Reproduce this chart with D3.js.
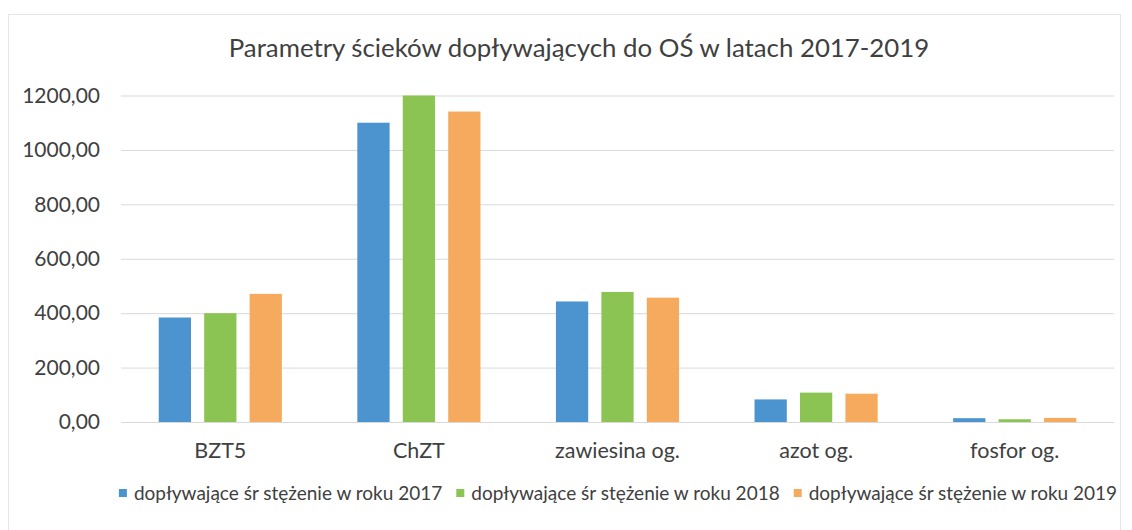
<!DOCTYPE html>
<html>
<head>
<meta charset="utf-8">
<script src="https://cdn.jsdelivr.net/npm/d3@7"></script>
<style>
  body { margin: 0; background: #fff; }
  svg { display: block; font-family: Lato, "Open Sans", sans-serif; }
  .grid line { stroke: #d9d9d9; stroke-width: 1; }
  .grid path { display: none; }
  .axis text { fill: #404040; }
</style>
</head>
<body>
<svg id="chart"></svg>
<script>
// chart data
const categories = ['BZT5', 'ChZT', 'zawiesina og.', 'azot og.', 'fosfor og.'];
const seriesNames = [
  'dopływające śr stężenie w roku 2017',
  'dopływające śr stężenie w roku 2018',
  'dopływające śr stężenie w roku 2019'
];
const values2017 = [384, 1100, 443, 83, 14];
const values2018 = [400, 1200, 478, 108, 10];
const values2019 = [471, 1141, 457, 104, 15];
const yTicks = [0, 200, 400, 600, 800, 1000, 1200];
const colors = ['#4c94d0', '#8cc453', '#f6aa5e'];
const title = 'Parametry ścieków dopływających do OŚ w latach 2017-2019';

class GroupedBarChart {

  constructor(_config) {
    this.config = {
      parentElement: _config.parentElement,
      containerWidth: _config.containerWidth || 1132,
      containerHeight: _config.containerHeight || 530,
      margin: _config.margin || { top: 95.5, right: 18, bottom: 108, left: 121 }
    };
    this.initVis();
  }

  initVis() {
    let vis = this;

    vis.width = vis.config.containerWidth - vis.config.margin.left - vis.config.margin.right;
    vis.height = vis.config.containerHeight - vis.config.margin.top - vis.config.margin.bottom;

    vis.svg = d3.select(vis.config.parentElement)
        .attr('width', vis.config.containerWidth)
        .attr('height', vis.config.containerHeight);

    // faint chart frame
    vis.svg.append('rect')
        .attr('x', 8.5).attr('y', 14.5)
        .attr('width', 1112).attr('height', 530)
        .attr('fill', '#fff')
        .attr('stroke', '#e6e6e6');

    vis.svg.append('text')
        .attr('x', 579)
        .attr('y', 57)
        .attr('text-anchor', 'middle')
        .attr('font-size', 25.8)
        .attr('fill', '#404040')
        .text(title);

    vis.chart = vis.svg.append('g')
        .attr('transform', `translate(${vis.config.margin.left},${vis.config.margin.top})`);

    vis.xScale = d3.scaleBand()
        .domain(categories)
        .range([0, vis.width]);

    vis.xInner = d3.scaleBand()
        .domain(d3.range(seriesNames.length))
        .range([0, vis.xScale.bandwidth() * 0.62])
        .paddingInner(0.29);

    vis.yScale = d3.scaleLinear()
        .domain([0, 1200])
        .range([vis.height, 0]);

    // gridlines
    vis.chart.append('g')
        .attr('class', 'grid')
        .call(d3.axisLeft(vis.yScale).tickValues(yTicks).tickSize(-vis.width).tickFormat(''));

    // y labels
    vis.chart.append('g')
        .attr('class', 'axis')
        .call(d3.axisLeft(vis.yScale)
            .tickValues(yTicks)
            .tickSize(0)
            .tickPadding(21)
            .tickFormat(d => d3.format('.2f')(d).replace('.', ',')))
        .call(g => g.select('.domain').remove())
        .selectAll('text')
        .attr('font-size', 21)
        .attr('font-family', 'Lato');

    // x labels
    vis.chart.append('g')
        .attr('class', 'axis')
        .attr('transform', `translate(0,${vis.height})`)
        .call(d3.axisBottom(vis.xScale).tickSize(0).tickPadding(21))
        .call(g => g.select('.domain').remove())
        .selectAll('text')
        .attr('font-size', 21.5)
        .attr('font-family', 'Lato');

    vis.renderVis();
  }

  renderVis() {
    let vis = this;
    const series = [values2017, values2018, values2019];
    const offset = (vis.xScale.bandwidth() - vis.xInner.range()[1]) / 2;

    vis.chart.selectAll('.series')
        .data(series)
      .join('g')
        .attr('class', 'series')
        .attr('fill', (d, i) => colors[i])
        .each(function(vals, si) {
          d3.select(this).selectAll('rect')
              .data(vals)
            .join('rect')
              .attr('x', (d, ci) => vis.xScale(categories[ci]) + offset + vis.xInner(si))
              .attr('y', d => vis.yScale(d))
              .attr('width', vis.xInner.bandwidth())
              .attr('height', d => vis.yScale(0) - vis.yScale(d));
        });

    // legend
    const legend = vis.svg.append('g').attr('transform', 'translate(0,493)');
    const items = legend.selectAll('g')
        .data(seriesNames)
      .join('g');
    items.append('rect')
        .attr('width', 8).attr('height', 8)
        .attr('y', -4)
        .attr('fill', (d, i) => colors[i]);
    items.append('text')
        .attr('x', 15)
        .attr('dy', '0.35em')
        .attr('font-size', 19)
        .attr('fill', '#404040')
        .text(d => d);

    let widths = [];
    items.each(function() { widths.push(this.getBBox().width); });
    const gap = 14;
    const total = d3.sum(widths) + gap * (widths.length - 1);
    let x = 618 - total / 2;
    items.each(function(d, i) {
      d3.select(this).attr('transform', `translate(${x},0)`);
      x += widths[i] + gap;
    });
  }
}

new GroupedBarChart({ parentElement: '#chart' });
</script>
</body>
</html>
